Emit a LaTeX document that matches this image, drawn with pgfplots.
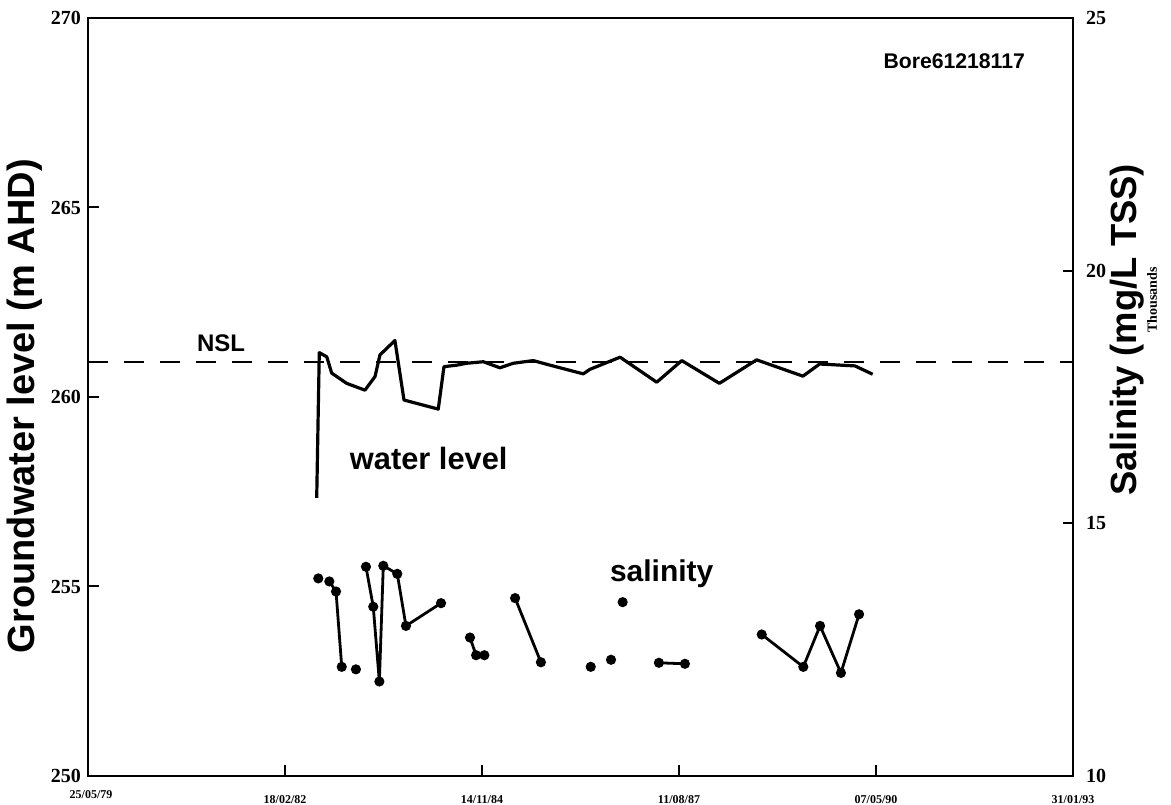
\documentclass[border=0pt]{standalone}
\usepackage{fontspec}
\setmainfont{Liberation Serif}
\setsansfont{Liberation Sans}
\usepackage{pgfplots}
\usepackage{pgfplotstable}
\pgfplotsset{compat=1.18}

% Bore 61218117: water level (m AHD) against days since 25/05/79
\pgfplotstableread{
day level
1161 257.34
1174 261.17
1212 261.06
1237 260.63
1313 260.36
1406 260.18
1457 260.54
1482 261.11
1558 261.49
1604 259.92
1778 259.68
1807 260.80
1872 260.84
1922 260.89
2007 260.93
2091 260.77
2159 260.89
2260 260.96
2345 260.84
2514 260.61
2548 260.73
2701 261.05
2887 260.39
3014 260.96
3205 260.36
3394 260.98
3629 260.55
3714 260.87
3893 260.82
3983 260.60
}\waterlevel

% Salinity (thousand mg/L TSS); nan rows break the line between sampling runs
\pgfplotstableread{
day tss
1169 13.91
1200 nan
1225 13.85
1259 13.65
1288 12.16
1320 nan
1360 12.11
1390 nan
1411 14.14
1448 13.35
1479 11.87
1499 14.16
1570 14.00
1614 12.97
1792 13.42
1850 nan
1939 12.74
1970 12.39
2012 12.39
2100 nan
2168 13.52
2299 12.25
2400 nan
2552 12.16
2600 nan
2655 12.30
2690 nan
2714 13.44
2800 nan
2898 12.24
3030 12.22
3200 nan
3420 12.80
3631 12.16
3716 12.97
3822 12.04
3914 13.20
}\salinity

\begin{document}
\begin{tikzpicture}
\begin{axis}[
  name=ax,
  scale only axis,
  width=492.5pt, height=379pt,
  xmin=0, xmax=5000, ymin=250, ymax=270,
  xtick={1000,2000,3000,4000,5000},
  xticklabels={18/02/82,14/11/84,11/08/87,07/05/90,31/01/93},
  extra x ticks={0},
  extra x tick labels={25/05/79},
  extra x tick style={xticklabel style={yshift=2.5pt, xshift=1.5pt}},
  ytick={250,255,...,270},
  tick align=inside,
  xtick pos=bottom, ytick pos=left,
  major tick length=5.5pt,
  every tick/.style={black, line width=1pt},
  axis line style={line width=1.2pt},
  clip=false,
  /pgf/number format/assume math mode=true,
  yticklabel style={font=\fontsize{10}{12}\selectfont\bfseries},
  xticklabel style={font=\fontsize{6}{7}\selectfont\bfseries, yshift=-6pt},
]
% natural surface level
\addplot[black, line width=1.3pt, dash pattern=on 10pt off 8pt] coordinates {(0,260.92) (5000,260.92)};
% water level
\addplot[black, line width=1.6pt, line join=round] table[x=day, y=level] {\waterlevel};

\node[anchor=base west, font=\sffamily\bfseries\fontsize{12}{14}\selectfont] at (axis cs:518,261.19) {NSL};
\node[anchor=base west, font=\sffamily\bfseries\fontsize{15.4}{18}\selectfont] at (axis cs:1294,258.09) {water level};
\node[anchor=base west, font=\sffamily\bfseries\fontsize{15}{18}\selectfont] at (axis cs:2614,255.14) {salinity};
\node[anchor=base east, font=\sffamily\bfseries\fontsize{10.6}{12}\selectfont] at (axis cs:4792,268.68) {Bore61218117};

\node[rotate=90, font=\sffamily\bfseries\fontsize{19}{22}\selectfont] at (axis cs:-320,259.76) {Groundwater level (m AHD)};
\node[rotate=90, font=\sffamily\bfseries\fontsize{18.2}{21}\selectfont] at (axis cs:5274,261.77) {Salinity (mg/L TSS)};
\node[rotate=90, font=\bfseries\fontsize{7}{8}\selectfont] at (axis cs:5401,262.56) {Thousands};
\end{axis}

\begin{axis}[
  scale only axis,
  width=492.5pt, height=379pt,
  xmin=0, xmax=5000, ymin=10, ymax=25,
  axis x line=none,
  axis y line*=right,
  ytick={10,15,20,25},
  tick align=inside,
  major tick length=5pt,
  every tick/.style={black, line width=1pt},
  axis line style={line width=1.2pt},
  unbounded coords=jump,
  /pgf/number format/assume math mode=true,
  yticklabel style={font=\fontsize{10}{12}\selectfont\bfseries, xshift=3pt},
]
\addplot[black, line width=1.4pt, mark=*, mark size=1.8pt, mark options={solid, fill=black}] table[x=day, y=tss] {\salinity};
\end{axis}

\pgfresetboundingbox
\path ([shift={(-44pt,-14.5pt)}]ax.south west) rectangle ([shift={(49pt,9pt)}]ax.north east);
\end{tikzpicture}
\end{document}
